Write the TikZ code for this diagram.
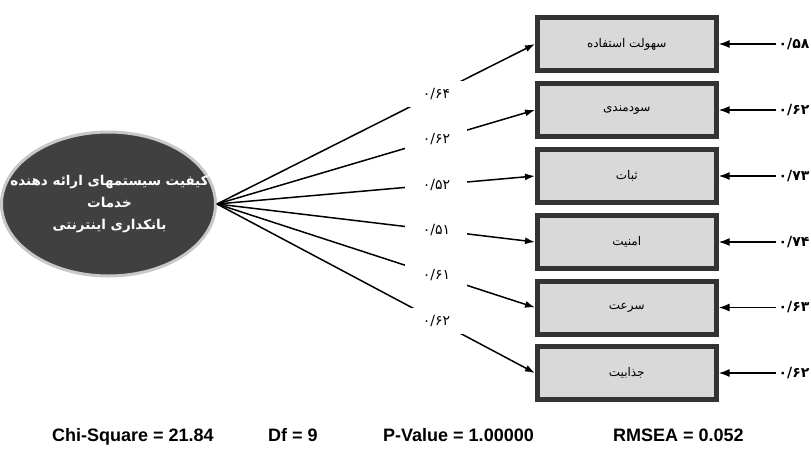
\documentclass[tikz,border=0pt]{standalone}
\usepackage{fontspec}
\setmainfont{Liberation Sans}
\newfontfamily\farsi[Script=Arabic]{DejaVu Sans}
\TeXXeTstate=1
\usetikzlibrary{shapes.geometric,arrows.meta}
\definecolor{boxfill}{HTML}{D9D9D9}
\definecolor{boxline}{HTML}{333333}
\definecolor{factorfill}{HTML}{404040}
\definecolor{factorline}{HTML}{C8C8C8}

\begin{document}
\begin{tikzpicture}[x=1pt, y=-1pt,
    itembox/.style={draw=boxline, fill=boxfill, line width=5pt, minimum width=178.5pt,
        minimum height=53pt, inner sep=0pt, font=\farsi\fontsize{12}{14}\selectfont},
    factor/.style={ellipse, draw=factorline, fill=factorfill, line width=3pt,
        minimum width=214pt, minimum height=144pt, inner sep=0pt},
    factortext/.style={text=white, align=center, inner sep=0pt,
        font=\farsi\bfseries\fontsize{13.5}{22}\selectfont},
    loading/.style={line width=1.5pt, -{Latex[length=10pt,width=7pt]}},
    coef/.style={pos=0.69, fill=white, minimum width=62pt, minimum height=26pt,
        inner sep=0pt, font=\farsi\fontsize{14}{16}\selectfont},
    errarrow/.style={line width=1.8pt, -{Latex[length=11pt,width=8pt]}},
    errlabel/.style={inner sep=2pt, font=\farsi\bfseries\fontsize{14}{16}\selectfont},
    stat/.style={anchor=base west, inner sep=0pt, font=\bfseries\fontsize{18}{20}\selectfont}]
    \useasboundingbox (0,0) rectangle (811,448);

    % Nodes
    \node (factor) [factor] at (108.5,204) {};
    \node (factortext) [factortext] at ([xshift=1pt]factor.center) {%
        \beginR کیفیت سیستمهای ارائه دهنده\endR\\
        \beginR خدمات\endR\\
        \beginR بانکداری اینترنتی\endR};

    \node (item1) [itembox] at (626.75,44) {\beginR سهولت استفاده\endR};
    \node (item2) [itembox] at (626.75,110) {\beginR سودمندی\endR};
    \node (item3) [itembox] at (626.75,176) {\beginR ثبات\endR};
    \node (item4) [itembox] at (626.75,242) {\beginR امنیت\endR};
    \node (item5) [itembox] at (626.75,307.5) {\beginR سرعت\endR};
    \node (item6) [itembox] at (626.75,373) {\beginR جذابیت\endR};

    \node (err1) [errlabel] at (794,44) {۰/۵۸};
    \node (err2) [errlabel] at (794,110) {۰/۶۲};
    \node (err3) [errlabel] at (794,176) {۰/۷۳};
    \node (err4) [errlabel] at (794,242) {۰/۷۴};
    \node (err5) [errlabel] at (794,307.5) {۰/۶۳};
    \node (err6) [errlabel] at (794,373) {۰/۶۲};

    \node (chi) [stat] at (52,441) {Chi-Square = 21.84};
    \node (df) [stat] at (268,441) {Df = 9};
    \node (pval) [stat] at (383,441) {P-Value = 1.00000};
    \node (rmsea) [stat] at (613,441) {RMSEA = 0.052};

    % Arrows
    \draw[loading] (factor.east) -- node[coef] (coef1) {۰/۶۴} (item1.west);
    \draw[loading] (factor.east) -- node[coef] (coef2) {۰/۶۲} (item2.west);
    \draw[loading] (factor.east) -- node[coef] (coef3) {۰/۵۲} (item3.west);
    \draw[loading] (factor.east) -- node[coef] (coef4) {۰/۵۱} (item4.west);
    \draw[loading] (factor.east) -- node[coef] (coef5) {۰/۶۱} (item5.west);
    \draw[loading] (factor.east) -- node[coef] (coef6) {۰/۶۲} (item6.west);

    \draw[errarrow] (err1.west) -- (item1.east);
    \draw[errarrow] (err2.west) -- (item2.east);
    \draw[errarrow] (err3.west) -- (item3.east);
    \draw[errarrow] (err4.west) -- (item4.east);
    \draw[errarrow] (err5.west) -- (item5.east);
    \draw[errarrow] (err6.west) -- (item6.east);
\end{tikzpicture}
\end{document}
